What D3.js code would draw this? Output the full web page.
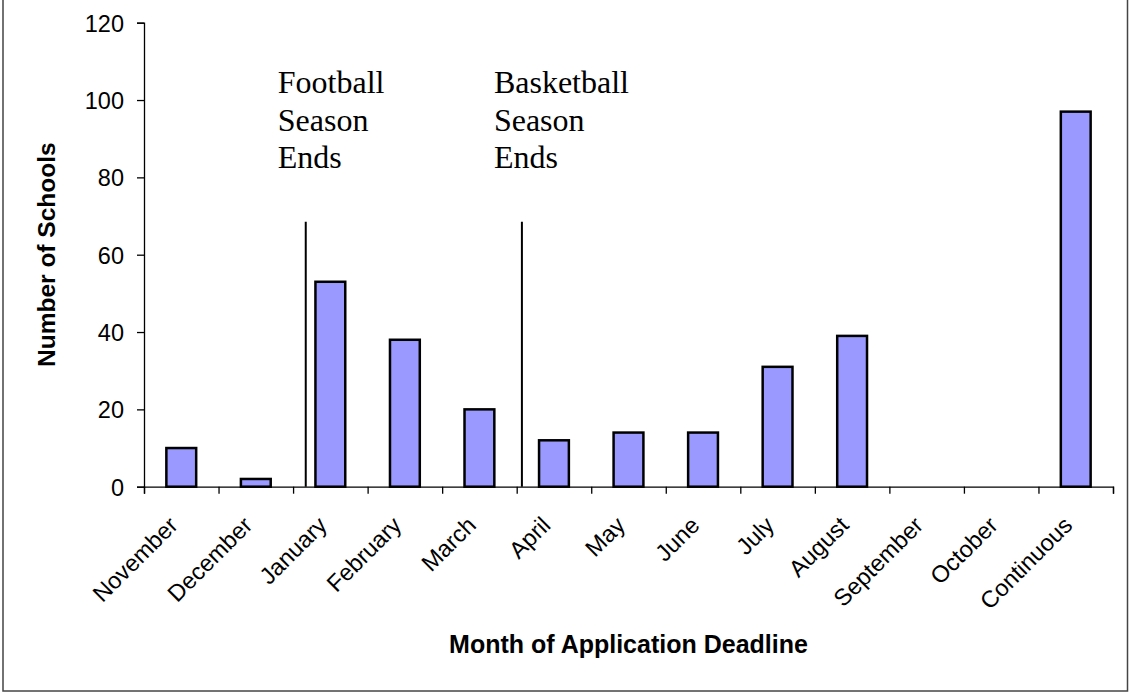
<!DOCTYPE html>
<html>
<head>
<meta charset="utf-8">
<script src="https://cdn.jsdelivr.net/npm/d3@7"></script>
<style>
  html, body { margin: 0; padding: 0; background: #fff; }
  svg { display: block; }
</style>
</head>
<body>
<svg id="chart" width="1130" height="692"></svg>
<script>
// ---- data ----
const categories = ["November", "December", "January", "February", "March", "April",
  "May", "June", "July", "August", "September", "October", "Continuous"];
const schools = [10, 2, 53, 38, 20, 12, 14, 14, 31, 39, 0, 0, 97];
const yTicks = [0, 20, 40, 60, 80, 100, 120];
// event markers: position in category units from the left axis, top value, label lines
const eventPositions = [2.17, 5.07];
const eventTops = [68.5, 68.5];
const eventLabels = [["Football", "Season", "Ends"], ["Basketball", "Season", "Ends"]];
const xTitle = "Month of Application Deadline";
const yTitle = "Number of Schools";

// ---- layout ----
const svg = d3.select("#chart");
const plotLeft = 144, plotRight = 1113, plotTop = 22.7, plotBottom = 486.7;

svg.append("rect")
  .attr("x", 3).attr("y", -1).attr("width", 1124.5).attr("height", 692)
  .attr("fill", "#fff").attr("stroke", "#444").attr("stroke-width", 1.5);

const x = d3.scaleBand().domain(categories).range([plotLeft, plotRight])
  .paddingInner(0.6).paddingOuter(0.3);
const xPos = d3.scaleLinear().domain([0, categories.length]).range([plotLeft, plotRight]);
const y = d3.scaleLinear().domain([0, 120]).range([plotBottom, plotTop]);

// bars
svg.append("g").selectAll("rect").data(categories).join("rect")
  .attr("x", d => x(d))
  .attr("width", x.bandwidth())
  .attr("y", (d, i) => y(schools[i]))
  .attr("height", (d, i) => y(0) - y(schools[i]))
  .attr("fill", "#9999FF")
  .attr("stroke", "#000")
  .attr("stroke-width", 2.5)
  .style("display", (d, i) => schools[i] > 0 ? null : "none");

// y axis
const yAxis = svg.append("g").attr("transform", `translate(${plotLeft},0)`)
  .call(d3.axisLeft(y).tickValues(yTicks).tickSize(7).tickPadding(13).tickFormat(d3.format("d")));
yAxis.select(".domain").attr("stroke", "#000").attr("stroke-width", 1.3);
yAxis.selectAll(".tick line").attr("stroke", "#000").attr("stroke-width", 1.3);
yAxis.selectAll(".tick text")
  .attr("font-family", "Liberation Sans, Arial, sans-serif")
  .attr("font-size", 23.5).attr("fill", "#000").attr("dy", "0.36em");

// x axis (ticks at category boundaries)
const boundaries = d3.range(categories.length + 1);
const xAxis = svg.append("g").attr("transform", `translate(0,${plotBottom})`)
  .call(d3.axisBottom(xPos).tickValues(boundaries).tickSize(7).tickFormat(""));
xAxis.select(".domain").attr("stroke", "#000").attr("stroke-width", 1.3);
xAxis.selectAll(".tick line").attr("stroke", "#000").attr("stroke-width", 1.3);

// x tick labels rotated
svg.append("g").selectAll("text").data(categories).join("text")
  .attr("transform", d => `translate(${x(d) + x.bandwidth() / 2 - 2},${plotBottom + 40}) rotate(-45)`)
  .attr("text-anchor", "end")
  .attr("font-family", "Liberation Sans, Arial, sans-serif")
  .attr("font-size", 23.5)
  .attr("fill", "#000")
  .text(d => d);

// event lines and labels
eventPositions.forEach((p, i) => {
  const lx = xPos(p);
  svg.append("line")
    .attr("x1", lx).attr("x2", lx)
    .attr("y1", y(eventTops[i])).attr("y2", y(0))
    .attr("stroke", "#000").attr("stroke-width", 2);
  const t = svg.append("text")
    .attr("x", lx - 28).attr("y", 93.3)
    .attr("font-family", "Liberation Serif, Times New Roman, serif")
    .attr("font-size", 32).attr("fill", "#000");
  eventLabels[i].forEach((s, j) => {
    t.append("tspan").attr("x", lx - 28).attr("dy", j === 0 ? 0 : 37.3).text(s);
  });
});

// axis titles
svg.append("text")
  .attr("x", (plotLeft + plotRight) / 2).attr("y", 653)
  .attr("text-anchor", "middle")
  .attr("font-family", "Liberation Sans, Arial, sans-serif")
  .attr("font-weight", "bold").attr("font-size", 25).attr("fill", "#000")
  .text(xTitle);

svg.append("text")
  .attr("transform", `translate(55,${(plotTop + plotBottom) / 2}) rotate(-90)`)
  .attr("text-anchor", "middle")
  .attr("font-family", "Liberation Sans, Arial, sans-serif")
  .attr("font-weight", "bold").attr("font-size", 24.5).attr("fill", "#000")
  .text(yTitle);
</script>
</body>
</html>
